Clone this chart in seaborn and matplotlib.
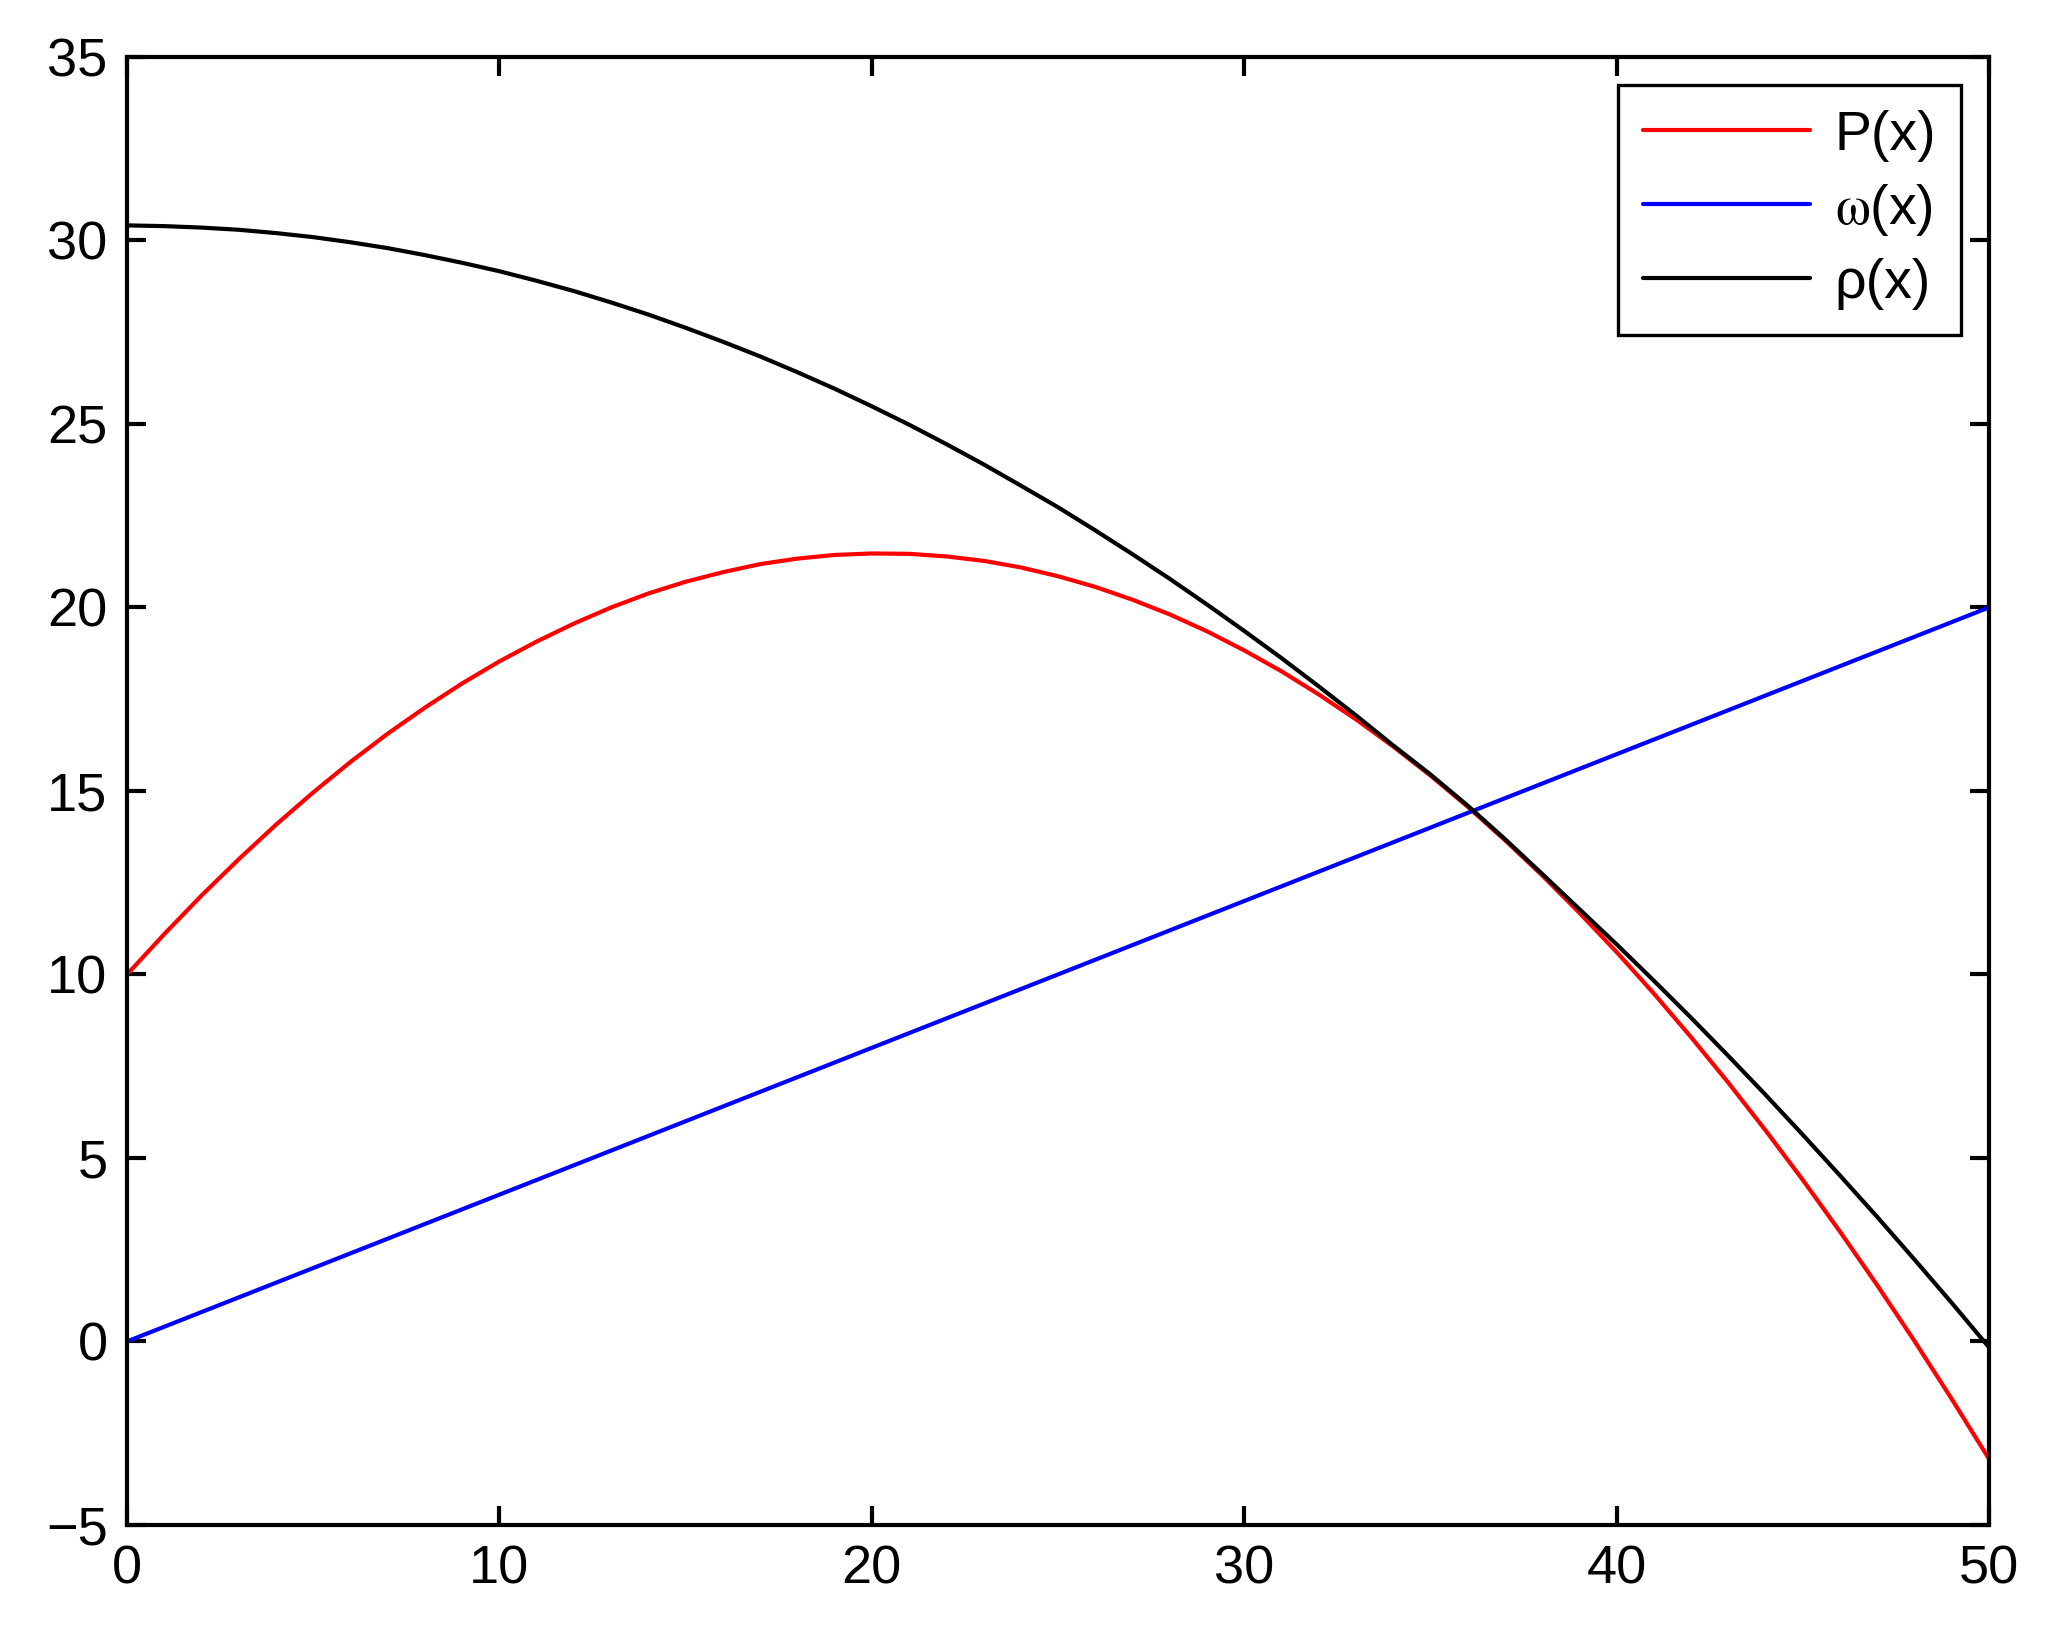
import numpy as np
import pandas as pd
import matplotlib
matplotlib.use("Agg")
import matplotlib.pyplot as plt
import seaborn as sns

# values, one sample per unit of x
x = list(range(0, 51))
p_vals = [10.00, 11.10, 12.15, 13.14, 14.08, 14.96, 15.79, 16.56, 17.27, 17.93,
          18.53, 19.07, 19.56, 20.00, 20.38, 20.70, 20.96, 21.18, 21.33, 21.43,
          21.47, 21.46, 21.39, 21.27, 21.09, 20.85, 20.56, 20.21, 19.81, 19.35,
          18.83, 18.26, 17.63, 16.95, 16.21, 15.42, 14.57, 13.66, 12.70, 11.68,
          10.61, 9.48, 8.29, 7.05, 5.75, 4.40, 2.99, 1.53, 0.01, -1.57,
          -3.20]
omega_vals = [0.0, 0.4, 0.8, 1.2, 1.6, 2.0, 2.4, 2.8, 3.2, 3.6,
              4.0, 4.4, 4.8, 5.2, 5.6, 6.0, 6.4, 6.8, 7.2, 7.6,
              8.0, 8.4, 8.8, 9.2, 9.6, 10.0, 10.4, 10.8, 11.2, 11.6,
              12.0, 12.4, 12.8, 13.2, 13.6, 14.0, 14.4, 14.8, 15.2, 15.6,
              16.0, 16.4, 16.8, 17.2, 17.6, 18.0, 18.4, 18.8, 19.2, 19.6,
              20.0]
rho_vals = [30.41, 30.39, 30.35, 30.29, 30.20, 30.09, 29.95, 29.79, 29.60, 29.39,
            29.16, 28.90, 28.62, 28.31, 27.98, 27.62, 27.24, 26.84, 26.41, 25.96,
            25.48, 24.98, 24.45, 23.90, 23.32, 22.73, 22.10, 21.45, 20.78, 20.08,
            19.36, 18.62, 17.85, 17.06, 16.24, 15.45, 14.60, 13.69, 12.74, 11.78,
            10.82, 9.83, 8.82, 7.78, 6.72, 5.63, 4.52, 3.39, 2.23, 1.05,
            -0.16]

labels = ["P(x)", r"$\mathrm{\omega}$(x)", "ρ(x)"]
colors = ["#ff0000", "#0000ff", "#000000"]

df = pd.concat([
    pd.DataFrame({"x": x, "y": p_vals, "curve": labels[0]}),
    pd.DataFrame({"x": x, "y": omega_vals, "curve": labels[1]}),
    pd.DataFrame({"x": x, "y": rho_vals, "curve": labels[2]}),
])

sns.set_style("ticks")
plt.rcParams["font.family"] = ["Liberation Sans", "DejaVu Sans"]
plt.rcParams["mathtext.fontset"] = "stix"

fig = plt.figure(figsize=(20.59, 16.5), dpi=100)
ax = fig.add_axes([0.0617, 0.0758, 0.9043, 0.8897])

sns.lineplot(data=df, x="x", y="y", hue="curve", palette=colors,
             hue_order=labels, estimator=None, sort=False, ax=ax)
for line in ax.lines:
    line.set_linewidth(3.0)

ax.set_xlim(0, 50)
ax.set_ylim(-5, 35)
ax.set_xticks(np.arange(0, 51, 10))
ax.set_yticks(np.arange(-5, 36, 5))
ax.set_xlabel("")
ax.set_ylabel("")
for s in ax.spines.values():
    s.set_visible(True)
    s.set_linewidth(3.0)
    s.set_color("black")
ax.tick_params(direction="in", length=13.7, width=3.0, labelsize=39,
               top=True, right=True, colors="black", pad=14)

leg = ax.legend(loc="upper right", fontsize=40, frameon=True, fancybox=False,
                handlelength=3.0, handletextpad=0.45, labelspacing=0.36,
                borderaxespad=0.5, borderpad=0.45)
leg.get_frame().set_edgecolor("black")
leg.get_frame().set_linewidth(2.4)
leg.get_frame().set_alpha(1)
for line in leg.get_lines():
    line.set_linewidth(3.0)
for t in leg.get_texts():
    t.set_color("black")

fig.savefig("out.png", dpi=100)
